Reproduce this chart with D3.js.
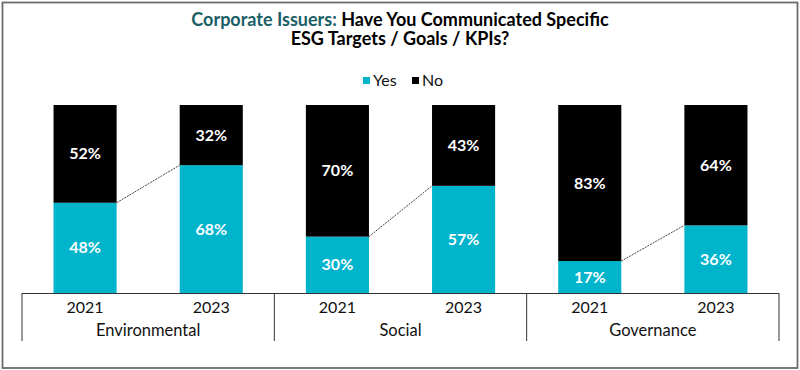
<!DOCTYPE html>
<html>
<head>
<meta charset="utf-8">
<script src="https://cdn.jsdelivr.net/npm/d3@7"></script>
<style>
  body { margin: 0; background: #fff; }
  svg { font-family: Lato, "Open Sans", sans-serif; }
</style>
</head>
<body>
<svg id="chart" width="800" height="370"></svg>
<script>
const categories = ["Environmental", "Social", "Governance"];
const years = ["2021", "2023"];
const yesValues = [48, 68, 30, 57, 17, 36];
const noValues = [52, 32, 70, 43, 83, 64];
const seriesNames = ["Yes", "No"];
const seriesColors = ["#00b4cc", "#000000"];

const svg = d3.select("#chart");
const width = +svg.attr("width");
const height = +svg.attr("height");

// outer frame
svg.append("rect")
    .attr("x", 2.5).attr("y", 2.5)
    .attr("width", width - 5).attr("height", height - 4.5)
    .attr("fill", "none")
    .attr("stroke", "#6b6b6b")
    .attr("stroke-width", 1.8);

// build rows
const rows = [];
categories.forEach((c, ci) => {
    years.forEach((y, yi) => {
        const i = ci * years.length + yi;
        rows.push({ key: c + "|" + y, cat: c, year: y, yes: yesValues[i], no: noValues[i] });
    });
});

const axisLeft = 22, axisRight = 779, baseY = 293, topY = 105;

const x = d3.scaleBand()
    .domain(rows.map(d => d.key))
    .range([axisLeft, axisRight])
    .paddingInner(0.5)
    .paddingOuter(0.25);

const y = d3.scaleLinear().domain([0, 100]).range([baseY, topY]);

const stack = d3.stack().keys(["yes", "no"]);
const stacked = stack(rows);

const g = svg.append("g");

g.selectAll("g.series").data(stacked)
    .join("g")
    .attr("class", "series")
    .attr("fill", (d, i) => seriesColors[i])
    .selectAll("rect").data(d => d)
    .join("rect")
    .attr("x", d => x(d.data.key))
    .attr("y", d => y(d[1]))
    .attr("width", x.bandwidth())
    .attr("height", d => y(d[0]) - y(d[1]));

// value labels
stacked.forEach(s => {
    g.selectAll(null).data(s)
        .join("text")
        .attr("x", d => x(d.data.key) + x.bandwidth() / 2)
        .attr("y", d => (y(d[0]) + y(d[1])) / 2)
        .attr("dy", "0.35em")
        .attr("text-anchor", "middle")
        .attr("fill", "#fff")
        .style("font-size", "16px")
        .style("font-weight", "bold")
        .text(d => (d[1] - d[0]) + "%");
});

// dashed connectors between years of each category
categories.forEach(c => {
    const a = rows.find(d => d.cat === c && d.year === years[0]);
    const b = rows.find(d => d.cat === c && d.year === years[1]);
    g.append("line")
        .attr("x1", x(a.key) + x.bandwidth())
        .attr("y1", y(a.yes))
        .attr("x2", x(b.key))
        .attr("y2", y(b.yes))
        .attr("stroke", "#444")
        .attr("stroke-width", 1)
        .attr("stroke-dasharray", "2,1");
});

// category axis
const axisG = svg.append("g");
axisG.append("line")
    .attr("x1", axisLeft).attr("x2", axisRight)
    .attr("y1", baseY + 0.5).attr("y2", baseY + 0.5)
    .attr("stroke", "#333").attr("stroke-width", 1);

const groupW = (axisRight - axisLeft) / categories.length;
const groupX = d3.scaleBand().domain(categories).range([axisLeft, axisRight]);
d3.range(categories.length + 1).forEach(i => {
    const xx = axisLeft + i * groupW;
    axisG.append("line")
        .attr("x1", xx).attr("x2", xx)
        .attr("y1", baseY).attr("y2", 341)
        .attr("stroke", "#333").attr("stroke-width", 1);
});

axisG.selectAll("text.year").data(rows)
    .join("text")
    .attr("class", "year")
    .attr("x", d => x(d.key) + x.bandwidth() / 2)
    .attr("y", 313)
    .attr("text-anchor", "middle")
    .attr("fill", "#111")
    .style("font-size", "16px")
    .text(d => d.year);

axisG.selectAll("text.cat").data(categories)
    .join("text")
    .attr("class", "cat")
    .attr("x", d => groupX(d) + groupX.bandwidth() / 2)
    .attr("y", 336)
    .attr("text-anchor", "middle")
    .attr("fill", "#111")
    .style("font-size", "16.5px")
    .text(d => d);

// title
const title = svg.append("text")
    .attr("x", width / 2)
    .attr("y", 26)
    .attr("text-anchor", "middle")
    .style("font-size", "18px")
    .style("font-weight", "bold");
title.append("tspan").attr("fill", "#1b5e66").text("Corporate Issuers: ");
title.append("tspan").attr("fill", "#000").text("Have You Communicated Specific");
svg.append("text")
    .attr("x", width / 2)
    .attr("y", 44.5)
    .attr("text-anchor", "middle")
    .style("font-size", "18px")
    .style("font-weight", "bold")
    .text("ESG Targets / Goals / KPIs?");

// legend
const legend = svg.append("g").attr("transform", "translate(363,80)");
const legendX = [0, 49];
seriesNames.forEach((n, i) => {
    legend.append("rect")
        .attr("x", legendX[i]).attr("y", -3)
        .attr("width", 7).attr("height", 7)
        .attr("fill", seriesColors[i]);
    legend.append("text")
        .attr("x", legendX[i] + 10)
        .attr("y", 0)
        .attr("dy", "0.35em")
        .style("font-size", "16px")
        .attr("fill", "#111")
        .text(n);
});
</script>
</body>
</html>
